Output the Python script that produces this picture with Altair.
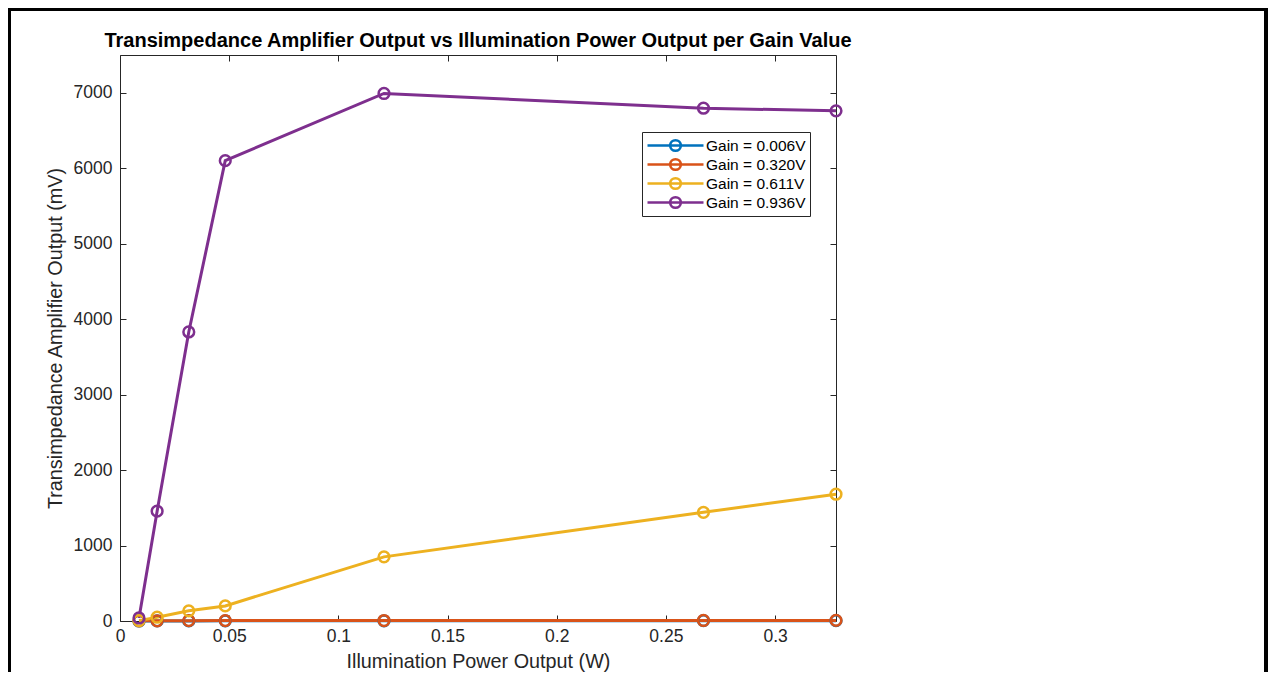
import altair as alt
import pandas as pd

# ---------------- data ----------------
power_w = [0.0087, 0.0170, 0.0315, 0.0482, 0.1209, 0.2672, 0.3279]
gain_labels = ["Gain = 0.006V", "Gain = 0.320V", "Gain = 0.611V", "Gain = 0.936V"]
out_gain_006 = [0.5, 1, 1.5, 2, 3, 4, 4.5]
out_gain_320 = [2, 3, 4, 5, 6, 7, 8]
out_gain_611 = [5, 50, 135, 200, 850, 1440, 1680]
out_gain_936 = [40, 1455, 3830, 6100, 6990, 6795, 6760]
series_colors = ["#0072BD", "#D95319", "#EDB120", "#7E2F8E"]
x_tick_values = [0, 0.05, 0.1, 0.15, 0.2, 0.25, 0.3]
y_tick_values = [0, 1000, 2000, 3000, 4000, 5000, 6000, 7000]
x_domain = [0, 0.3279]
y_domain = [0, 7500]

rows = []
for lab, ser in zip(gain_labels, [out_gain_006, out_gain_320, out_gain_611, out_gain_936]):
    for p, v in zip(power_w, ser):
        rows.append({"power": p, "output": v, "gain": lab})
df = pd.DataFrame(rows)

W, H = 716, 566
FONT = "Liberation Sans"
INK = "#262626"
TICK_FS = 17.5
LABEL_FS = 19.8

xs = alt.Scale(domain=x_domain, nice=False, zero=False)
ys = alt.Scale(domain=y_domain, nice=False)

legend_symbol = "M-1,0H1M0.19,0A0.19,0.19 0 1 1 -0.19,0A0.19,0.19 0 1 1 0.19,0"
color = alt.Color(
    "gain:N",
    scale=alt.Scale(domain=gain_labels, range=series_colors),
    legend=alt.Legend(
        title=None, orient="none", legendX=522, legendY=77,
        strokeColor=INK, fillColor="white", padding=4, cornerRadius=0,
        symbolType=legend_symbol, symbolSize=3136, symbolStrokeWidth=2.6,
        symbolOffset=0, labelOffset=1, rowPadding=0, clipHeight=19,
        labelFont=FONT, labelFontSize=15.5, labelColor="black",
    ),
)

tick_only = dict(labels=False, domain=False, grid=False, ticks=True,
                 tickSize=6, tickColor=INK, tickWidth=1, title=None)

base = alt.Chart(df)

lines = base.mark_line(strokeWidth=3).encode(
    x=alt.X("power:Q", scale=xs, axis=alt.Axis(
        orient="bottom", values=x_tick_values, format="~g", ticks=False,
        domain=False, grid=False, labelFlush=False, labelFont=FONT,
        labelFontSize=TICK_FS, labelColor=INK, labelPadding=6,
        title="Illumination Power Output (W)", titleFont=FONT,
        titleFontSize=LABEL_FS, titleFontWeight="normal", titleColor=INK,
        titlePadding=7)),
    y=alt.Y("output:Q", scale=ys, axis=alt.Axis(
        orient="left", values=y_tick_values, format="d", ticks=False,
        domain=False, grid=False, labelFlush=False, labelFont=FONT,
        labelFontSize=TICK_FS, labelColor=INK, labelPadding=8,
        title="Transimpedance Amplifier Output (mV)", titleFont=FONT,
        titleFontSize=LABEL_FS, titleFontWeight="normal", titleColor=INK,
        titlePadding=8)),
    color=color,
)

points = base.mark_point(filled=False, size=115, strokeWidth=2.5, opacity=1).encode(
    x=alt.X("power:Q", scale=xs, axis=alt.Axis(orient="top", offset=-H,
                                                values=x_tick_values, **tick_only)),
    y=alt.Y("output:Q", scale=ys, axis=alt.Axis(orient="right", offset=-W,
                                                 values=y_tick_values, **tick_only)),
    color=color,
)

ghost = base.mark_point(opacity=0).encode(
    x=alt.X("power:Q", scale=xs, axis=alt.Axis(orient="bottom", offset=-H,
                                                values=x_tick_values, **tick_only)),
    y=alt.Y("output:Q", scale=ys, axis=alt.Axis(orient="left", offset=-W,
                                                 values=y_tick_values, **tick_only)),
)

# figure frame (decorative border of the exported figure)
frame = alt.Chart(alt.Data(values=[{}])).mark_rect(
    filled=False, stroke="black", strokeWidth=4
).encode(x=alt.value(-111), x2=alt.value(1146), y=alt.value(-46), y2=alt.value(700))

chart = alt.layer(frame, lines, points, ghost).resolve_axis(
    x="independent", y="independent"
).properties(
    width=W, height=H,
    padding={"left": 112, "top": 47, "right": 432, "bottom": 51},
    autosize=alt.AutoSizeParams(type="none"),
    title=alt.Title(
        "Transimpedance Amplifier Output vs Illumination Power Output per Gain Value",
        font=FONT, fontSize=20, fontWeight="bold", color="black",
        anchor="middle", frame="group", offset=-44),
).configure_view(stroke=INK, strokeWidth=1)

chart.save("out.html", embed_options={"renderer": "svg", "actions": False})
